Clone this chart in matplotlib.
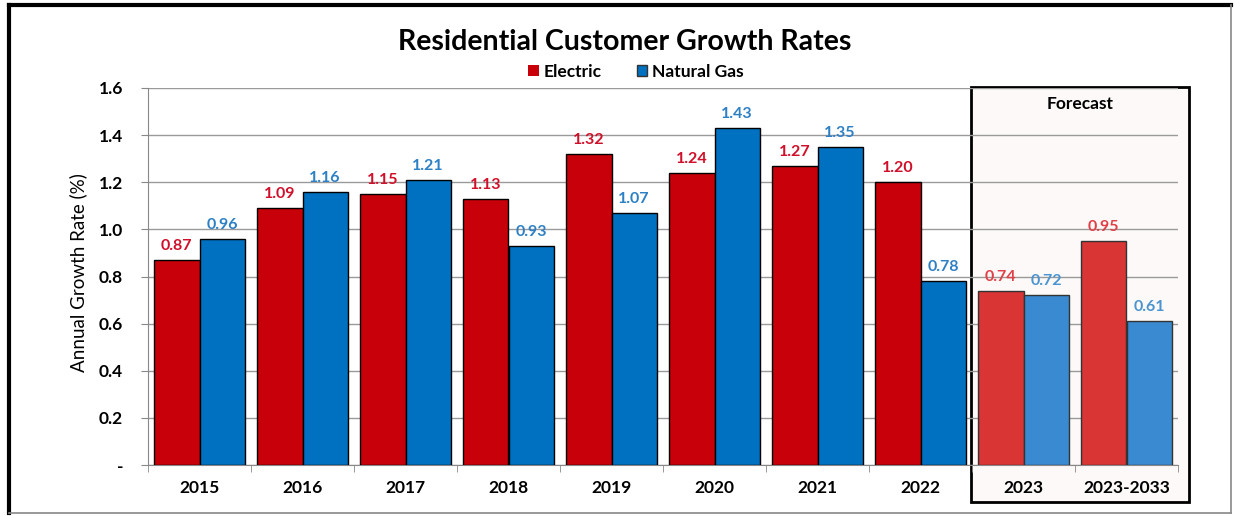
import matplotlib
matplotlib.use("Agg")
import matplotlib.pyplot as plt
from matplotlib.patches import Rectangle
from matplotlib.lines import Line2D
import numpy as np

categories = ["2015", "2016", "2017", "2018", "2019", "2020", "2021", "2022", "2023", "2023-2033"]
electric = [0.87, 1.09, 1.15, 1.13, 1.32, 1.24, 1.27, 1.20, 0.74, 0.95]
natural_gas = [0.96, 1.16, 1.21, 0.93, 1.07, 1.43, 1.35, 0.78, 0.72, 0.61]
forecast_start = 8
yticks = [0, 0.2, 0.4, 0.6, 0.8, 1.0, 1.2, 1.4, 1.6]
ytick_labels = ["-", "0.2", "0.4", "0.6", "0.8", "1.0", "1.2", "1.4", "1.6"]

plt.rcParams["font.family"] = ["Lato", "DejaVu Sans"]

W, H = 1235, 516
fig = plt.figure(figsize=(W / 100, H / 100), dpi=100)
ax = fig.add_axes([148 / W, 1 - 465 / H, (1178 - 148) / W, (465 - 88) / H])

x = np.arange(len(categories))
bw = 0.44
elec_hist, gas_hist = "#C8000A", "#0070C0"
elec_fc, gas_fc = "#D93535", "#3A8AD2"
elec_lbl, gas_lbl = "#D0102A", "#2E80C4"
elec_lbl_fc, gas_lbl_fc = "#E04048", "#4A94D0"

for i in range(len(categories)):
    fc = i >= forecast_start
    ce = elec_fc if fc else elec_hist
    cg = gas_fc if fc else gas_hist
    ec = "#333333" if fc else "black"
    ax.bar(x[i] - bw / 2, electric[i], bw, color=ce, edgecolor=ec, linewidth=1.0, zorder=3)
    ax.bar(x[i] + bw / 2, natural_gas[i], bw, color=cg, edgecolor=ec, linewidth=1.0, zorder=3)
    ax.annotate(f"{electric[i]:.2f}", (x[i] - bw / 2, electric[i]), xytext=(0, 5),
                textcoords="offset points", ha="center", va="bottom",
                color=elec_lbl_fc if fc else elec_lbl, fontsize=11.5, fontweight="bold")
    ax.annotate(f"{natural_gas[i]:.2f}", (x[i] + bw / 2, natural_gas[i]), xytext=(0, 5),
                textcoords="offset points", ha="center", va="bottom",
                color=gas_lbl_fc if fc else gas_lbl, fontsize=11.5, fontweight="bold")

ax.set_xlim(-0.5, len(categories) - 0.5)
ax.set_ylim(0, 1.6)
ax.set_yticks(yticks)
ax.set_yticklabels(ytick_labels, fontsize=12.5, fontweight="bold")
ax.set_xticks(x)
ax.set_xticklabels(categories, fontsize=12.5, fontweight="bold")
ax.tick_params(axis="x", length=0, pad=11)
ax.tick_params(axis="y", length=5, color="#888888", pad=13)
ax.set_xticks(np.arange(-0.5, len(categories), 1.0), minor=True)
ax.tick_params(axis="x", which="minor", length=5, color="#888888")
ax.grid(axis="y", color="#9a9a9a", linewidth=1.0, zorder=0)
for s in ["top", "right"]:
    ax.spines[s].set_visible(False)
ax.spines["left"].set_color("#888888")
ax.spines["bottom"].set_color("#888888")
ax.set_ylabel("Annual Growth Rate (%)", fontsize=13.5)
ax.yaxis.set_label_coords(-0.059, 0.51)

# forecast highlight box
fig.add_artist(Rectangle((971 / W, 1 - 502 / H), 218 / W, 415 / H, transform=fig.transFigure,
                         facecolor="#fdf9f9", edgecolor="black", linewidth=2, zorder=0))
ax.patch.set_alpha(0)
ax.set_zorder(2)
fig.text(1080 / W, 1 - 104 / H, "Forecast", ha="center", va="center",
         fontsize=12.5, fontweight="bold")

fig.text(625 / W, 1 - 42 / H, "Residential Customer Growth Rates", ha="center", va="center",
         fontsize=20.5, fontweight="bold")

handles = [Rectangle((0, 0), 1, 1, facecolor=elec_hist, edgecolor="none"),
           Rectangle((0, 0), 1, 1, facecolor=gas_hist, edgecolor="#333333")]
fig.legend(handles, ["Electric", "Natural Gas"], loc="center", bbox_to_anchor=(636 / W, 1 - 72 / H),
           ncol=2, frameon=False, handlelength=0.6, handleheight=0.6, handletextpad=0.3,
           columnspacing=2.0, prop={"size": 12.5, "weight": "bold"})

# outer frame
fig.add_artist(Line2D([9 / W, 9 / W], [1 - 513 / H, 1 - 5 / H], transform=fig.transFigure,
                      color="black", linewidth=3))
fig.add_artist(Line2D([9 / W, 1231 / W], [1 - 5 / H, 1 - 5 / H], transform=fig.transFigure,
                      color="black", linewidth=3))
fig.add_artist(Line2D([1231 / W, 1231 / W], [1 - 513 / H, 1 - 5 / H], transform=fig.transFigure,
                      color="#888888", linewidth=1.2))
fig.add_artist(Line2D([9 / W, 1231 / W], [1 - 513 / H, 1 - 513 / H], transform=fig.transFigure,
                      color="#888888", linewidth=1.2))

fig.savefig("out.png", dpi=100)
